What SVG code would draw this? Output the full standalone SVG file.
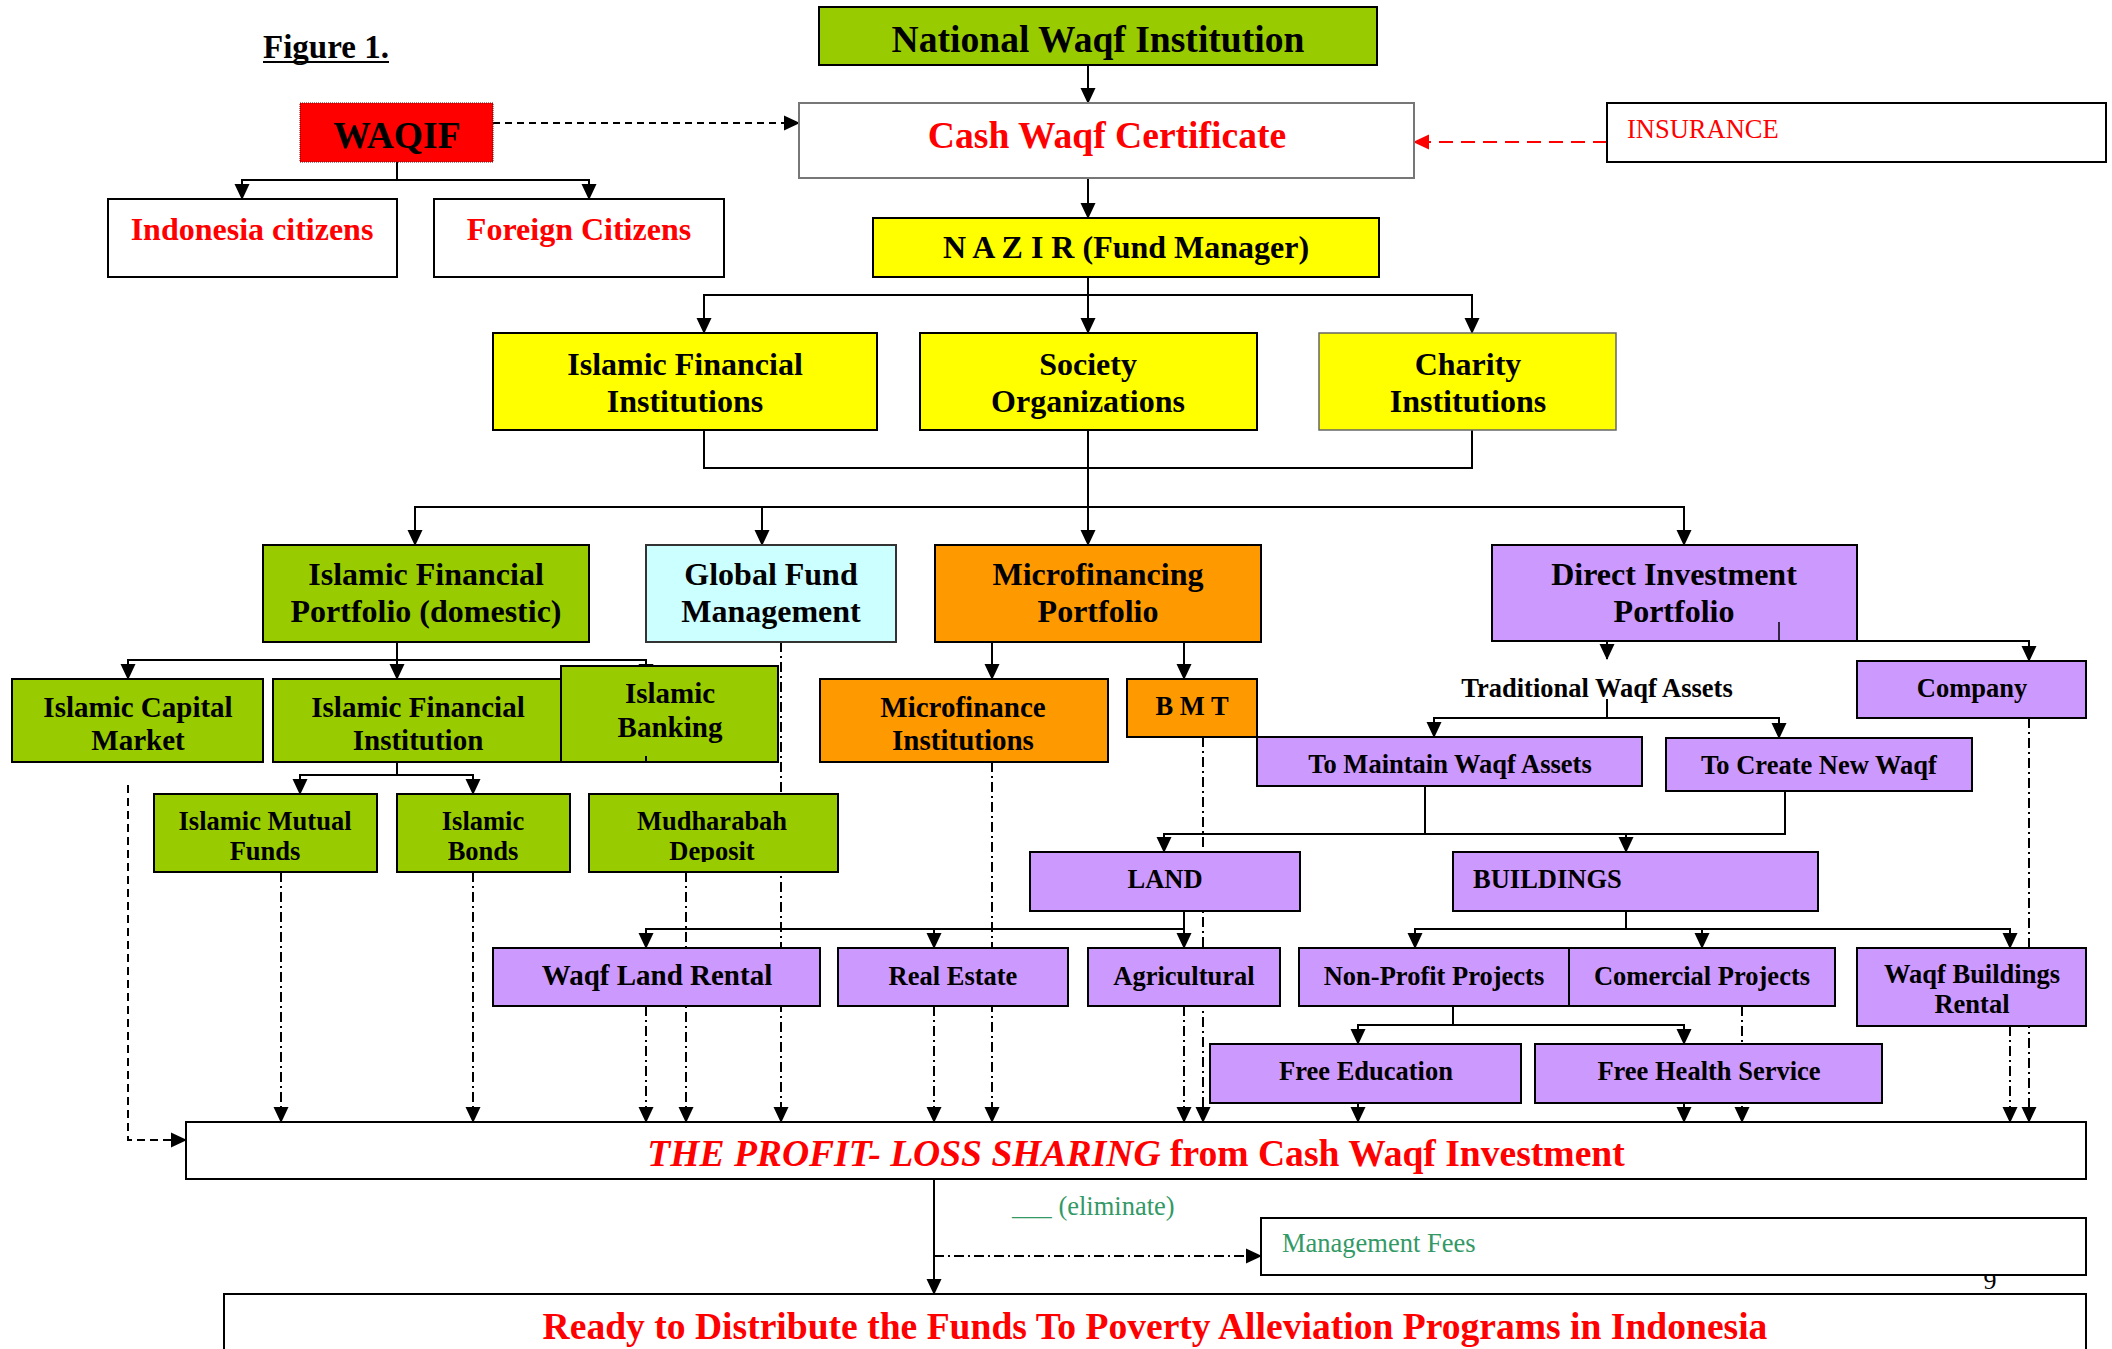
<svg xmlns="http://www.w3.org/2000/svg" width="2112" height="1349" viewBox="0 0 2112 1349">
<defs>
<style>
text{font-family:"Liberation Serif","Times New Roman",serif;font-weight:bold;fill:#000;}
.t37{font-size:37.6px;}
.t32{font-size:32px;}
.t29{font-size:29px;}
.t26{font-size:26.5px;}
.c{text-anchor:middle;}
.red{fill:#FF0000;}
.grn{fill:#339966;font-weight:normal;}
.box{stroke:#000;stroke-width:2;}
.g1{fill:#99CC00;}
.yel{fill:#FFFF00;}
.pur{fill:#CC99FF;}
.org{fill:#FF9900;}
.cy{fill:#CCFFFF;}
.wh{fill:#FFFFFF;}
.ln{fill:none;stroke:#000;stroke-width:2;}
.arr{marker-end:url(#ah);}
.dd{stroke-dasharray:10 4 2 4;}
.ds{stroke-dasharray:8 5;}
</style>
<marker id="ah" markerUnits="userSpaceOnUse" markerWidth="16" markerHeight="16" refX="15" refY="8" orient="auto">
<path d="M0,0.5 L16,8 L0,15.5 Z" fill="#000"/>
</marker>
<marker id="ahr" markerUnits="userSpaceOnUse" markerWidth="16" markerHeight="16" refX="15" refY="8" orient="auto">
<path d="M0,0.5 L16,8 L0,15.5 Z" fill="#FF0000"/>
</marker>
<clipPath id="clipDep"><rect x="589" y="794" width="249" height="68"/></clipPath>
</defs>
<rect x="0" y="0" width="2112" height="1349" fill="#FFFFFF"/>

<g id="title">
<text x="263" y="58" style="font-size:33px">Figure 1.</text>
<line x1="263" y1="62" x2="389" y2="62" stroke="#000" stroke-width="2"/>
</g>

<g id="connectors">
<path class="ln arr" d="M1088,65 V103"/>
<path class="ln arr" d="M1088,178 V218"/>
<path class="ln arr" d="M493,123 H799" style="stroke-dasharray:7 5"/>
<path d="M1607,142 H1414" fill="none" stroke="#FF0000" stroke-width="2" stroke-dasharray="14 8" marker-end="url(#ahr)"/>
<path class="ln arr" d="M397,162 V180 H242 V199"/>
<path class="ln arr" d="M397,180 H589 V199"/>
<path class="ln arr" d="M1088,277 V333"/>
<path class="ln arr" d="M1088,295 H704 V333"/>
<path class="ln arr" d="M1088,295 H1472 V333"/>
<path class="ln" d="M704,430 V468 H1472 V430"/>
<path class="ln arr" d="M1088,430 V545"/>
<path class="ln arr" d="M1088,507 H415 V545"/>
<path class="ln arr" d="M762,507 V545"/>
<path class="ln arr" d="M1088,507 H1684 V545"/>
<path class="ln arr" d="M397,642 V660 H128 V679"/>
<path class="ln arr" d="M397,660 V679"/>
<path class="ln arr" d="M397,660 H646 V679"/>
<path class="ln arr" d="M397,762 V775 H300 V794"/>
<path class="ln arr" d="M397,775 H473 V794"/>
<path class="ln arr" d="M992,642 V679"/>
<path class="ln arr" d="M1184,642 V679"/>
<path class="ln arr" d="M1607,641 V659"/>
<path class="ln arr" d="M1607,641 H2029 V661"/>
<path class="ln arr" d="M1607,699 V718 H1434 V737"/>
<path class="ln arr" d="M1607,718 H1779 V738"/>
<path class="ln" d="M1425,786 V834"/>
<path class="ln arr" d="M1785,791 V834 H1164 V852"/>
<path class="ln arr" d="M1626,834 V852"/>
<path class="ln arr" d="M1184,911 V929 H646 V948"/>
<path class="ln arr" d="M934,929 V948"/>
<path class="ln arr" d="M1184,929 V948"/>
<path class="ln arr" d="M1626,911 V929 H1415 V948"/>
<path class="ln arr" d="M1626,929 H2010 V948"/>
<path class="ln arr" d="M1702,929 V948"/>
<path class="ln arr" d="M1453,1006 V1025 H1358 V1044"/>
<path class="ln arr" d="M1453,1025 H1684 V1044"/>
<path class="ln arr" d="M1358,1103 V1122"/>
<path class="ln arr" d="M1684,1103 V1122"/>
<path class="ln arr ds" d="M128,785 V1140 H186"/>
<path class="ln arr dd" d="M281,872 V1122"/>
<path class="ln arr dd" d="M473,872 V1122"/>
<path class="ln arr dd" d="M646,1006 V1122"/>
<path class="ln arr dd" d="M686,872 V1122"/>
<path class="ln arr dd" d="M781,642 V1122"/>
<path class="ln arr dd" d="M934,1006 V1122"/>
<path class="ln arr dd" d="M992,762 V1122"/>
<path class="ln arr dd" d="M1184,1006 V1122"/>
<path class="ln arr dd" d="M1203,737 V1122"/>
<path class="ln arr dd" d="M1742,1006 V1122"/>
<path class="ln arr dd" d="M2010,1026 V1122"/>
<path class="ln arr dd" d="M2029,718 V1122"/>
<path class="ln arr" d="M934,1179 V1294"/>
<path class="ln arr dd" d="M934,1256 H1261"/>
</g>

<g id="national"><rect class="box g1" x="819" y="7" width="558" height="58"/><text class="t37 c" x="1098" y="52">National Waqf Institution</text></g>
<g id="waqif"><rect x="300" y="103" width="193" height="59" fill="#FF0000" stroke="#600" stroke-width="1" stroke-dasharray="1 1"/><text class="t37 c" x="397" y="148">WAQIF</text></g>
<g id="cash"><rect class="wh" x="799" y="103" width="615" height="75" stroke="#777" stroke-width="2"/><text class="t37 c red" x="1107" y="148">Cash Waqf Certificate</text></g>
<g id="insurance"><rect class="box wh" x="1607" y="103" width="499" height="59"/><text class="red" x="1627" y="138" style="font-size:26.5px;font-weight:normal">INSURANCE</text></g>
<g id="indonesia"><rect class="box wh" x="108" y="199" width="289" height="78"/><text class="t32 c red" x="252" y="240">Indonesia citizens</text></g>
<g id="foreign"><rect class="box wh" x="434" y="199" width="290" height="78"/><text class="t32 c red" x="579" y="240">Foreign Citizens</text></g>
<g id="nazir"><rect class="box yel" x="873" y="218" width="506" height="59"/><text class="t32 c" x="1126" y="258">N A Z I R (Fund Manager)</text></g>
<g id="ifi-top"><rect class="box yel" x="493" y="333" width="384" height="97"/><text class="t32 c" x="685" y="375">Islamic Financial</text><text class="t32 c" x="685" y="412">Institutions</text></g>
<g id="society"><rect class="box yel" x="920" y="333" width="337" height="97"/><text class="t32 c" x="1088" y="375">Society</text><text class="t32 c" x="1088" y="412">Organizations</text></g>
<g id="charity"><rect class="yel" x="1319" y="333" width="297" height="97" stroke="#666" stroke-width="1.5"/><text class="t32 c" x="1468" y="375">Charity</text><text class="t32 c" x="1468" y="412">Institutions</text></g>

<g id="ifp"><rect class="box g1" x="263" y="545" width="326" height="97"/><text class="t32 c" x="426" y="585">Islamic Financial</text><text class="t32 c" x="426" y="622">Portfolio (domestic)</text></g>
<g id="global"><rect class="cy" x="646" y="545" width="250" height="97" stroke="#333" stroke-width="2"/><text class="t32 c" x="771" y="585">Global Fund</text><text class="t32 c" x="771" y="622">Management</text></g>
<g id="microfin"><rect class="box org" x="935" y="545" width="326" height="97"/><text class="t32 c" x="1098" y="585">Microfinancing</text><text class="t32 c" x="1098" y="622">Portfolio</text></g>
<g id="direct"><rect class="box pur" x="1492" y="545" width="365" height="96"/><text class="t32 c" x="1674" y="585">Direct Investment</text><text class="t32 c" x="1674" y="622">Portfolio</text><line x1="1779" y1="622" x2="1779" y2="641" stroke="#000" stroke-width="1.5"/></g>

<g id="capital"><rect class="box g1" x="12" y="679" width="251" height="83"/><text class="t29 c" x="138" y="717">Islamic Capital</text><text class="t29 c" x="138" y="750">Market</text></g>
<g id="ifi3"><rect class="box g1" x="273" y="679" width="289" height="83"/><text class="t29 c" x="418" y="717">Islamic Financial</text><text class="t29 c" x="418" y="750">Institution</text></g>
<g id="banking"><rect class="box g1" x="561" y="666" width="217" height="96"/><text class="t29 c" x="670" y="703">Islamic</text><text class="t29 c" x="670" y="737">Banking</text><line x1="646" y1="756" x2="646" y2="762" stroke="#000" stroke-width="2"/></g>
<g id="microinst"><rect class="box org" x="820" y="679" width="288" height="83"/><text class="t29 c" x="963" y="717">Microfinance</text><text class="t29 c" x="963" y="750">Institutions</text></g>
<g id="bmt"><rect class="box org" x="1127" y="679" width="130" height="58"/><text class="t26 c" x="1192" y="715">B M T</text></g>
<g id="traditional"><text class="t26 c" x="1597" y="697">Traditional Waqf Assets</text></g>
<g id="company"><rect class="box pur" x="1857" y="661" width="229" height="57"/><text class="t26 c" x="1972" y="697">Company</text></g>
<g id="maintain"><rect class="box pur" x="1257" y="737" width="385" height="49"/><text class="t26 c" x="1450" y="773">To Maintain Waqf Assets</text></g>
<g id="create"><rect class="box pur" x="1666" y="738" width="306" height="53"/><text class="t26 c" x="1819" y="774">To Create New Waqf</text></g>

<g id="mutual"><rect class="box g1" x="154" y="794" width="223" height="78"/><text class="t26 c" x="265" y="830">Islamic Mutual</text><text class="t26 c" x="265" y="860">Funds</text></g>
<g id="bonds"><rect class="box g1" x="397" y="794" width="173" height="78"/><text class="t26 c" x="483" y="830">Islamic</text><text class="t26 c" x="483" y="860">Bonds</text></g>
<g id="mudharabah"><rect class="box g1" x="589" y="794" width="249" height="78"/><text class="t26 c" x="712" y="830">Mudharabah</text><text class="t26 c" x="712" y="860" clip-path="url(#clipDep)">Deposit</text></g>

<g id="land"><rect class="box pur" x="1030" y="852" width="270" height="59"/><text class="t26 c" x="1165" y="888">LAND</text></g>
<g id="buildings"><rect class="box pur" x="1453" y="852" width="365" height="59"/><text class="t26" x="1473" y="888">BUILDINGS</text></g>

<g id="landrental"><rect class="box pur" x="493" y="948" width="327" height="58"/><text class="t29 c" x="657" y="985">Waqf Land Rental</text></g>
<g id="realestate"><rect class="box pur" x="838" y="948" width="230" height="58"/><text class="t26 c" x="953" y="985">Real Estate</text></g>
<g id="agricultural"><rect class="box pur" x="1088" y="948" width="192" height="58"/><text class="t26 c" x="1184" y="985">Agricultural</text></g>
<g id="nonprofit"><rect class="box pur" x="1299" y="948" width="270" height="58"/><text class="t26 c" x="1434" y="985">Non-Profit Projects</text></g>
<g id="comercial"><rect class="box pur" x="1569" y="948" width="266" height="58"/><text class="t26 c" x="1702" y="985">Comercial Projects</text></g>
<g id="wbrental"><rect class="box pur" x="1857" y="948" width="229" height="78"/><text class="t26 c" x="1972" y="983">Waqf Buildings</text><text class="t26 c" x="1972" y="1013">Rental</text></g>
<g id="freeedu"><rect class="box pur" x="1210" y="1044" width="311" height="59"/><text class="t26 c" x="1366" y="1080">Free Education</text></g>
<g id="freehealth"><rect class="box pur" x="1535" y="1044" width="347" height="59"/><text class="t26 c" x="1709" y="1080">Free Health Service</text></g>

<g id="profit"><rect class="box wh" x="186" y="1122" width="1900" height="57"/><text class="t37 c red" x="1136" y="1166"><tspan font-style="italic">THE PROFIT- LOSS SHARING</tspan> from Cash Waqf Investment</text></g>
<g id="eliminate"><text class="grn" x="1012" y="1215" style="font-size:26.5px">___ (eliminate)</text></g>
<g id="pagenum"><text x="1990" y="1289" text-anchor="middle" style="font-size:26px;font-weight:normal">9</text></g>
<g id="mgmt"><rect class="box wh" x="1261" y="1218" width="825" height="57"/><text class="grn" x="1282" y="1252" style="font-size:26.5px">Management Fees</text></g>
<g id="ready"><rect class="box wh" x="224" y="1294" width="1862" height="80"/><text class="t37 c red" x="1155" y="1339">Ready to Distribute the Funds To Poverty Alleviation Programs in Indonesia</text></g>
</svg>
